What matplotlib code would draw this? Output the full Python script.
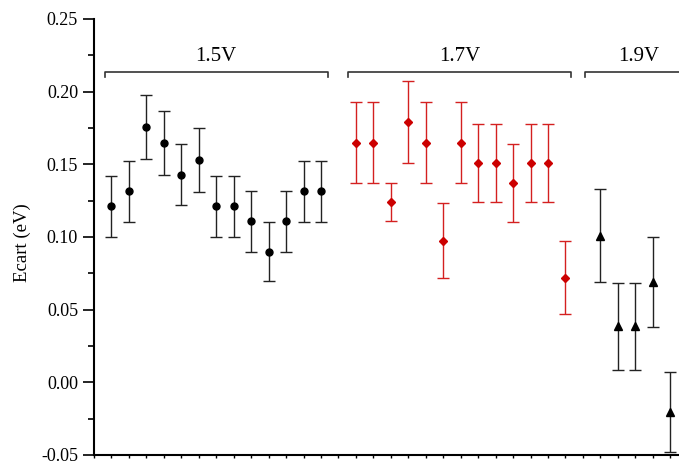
import matplotlib
matplotlib.use('Agg')
import matplotlib.pyplot as plt
import numpy as np

plt.rcParams['font.family'] = ['Liberation Serif', 'DejaVu Serif']

# 1.5V series (black circles)
x15 = np.arange(1, 14)
y15 = [0.121, 0.1315, 0.1756, 0.1646, 0.1427, 0.1532, 0.121, 0.121, 0.1107, 0.090, 0.1107, 0.1315, 0.1315]
e15 = [0.021, 0.021, 0.022, 0.022, 0.021, 0.022, 0.021, 0.021, 0.021, 0.020, 0.021, 0.021, 0.021]

# 1.7V series (red diamonds)
x17 = np.arange(15, 28)
y17 = [0.165, 0.165, 0.124, 0.179, 0.165, 0.0975, 0.165, 0.151, 0.151, 0.1372, 0.151, 0.151, 0.0719]
e17 = [0.028, 0.028, 0.013, 0.028, 0.028, 0.026, 0.028, 0.027, 0.027, 0.027, 0.027, 0.027, 0.025]

# 1.9V series (black triangles)
x19 = np.arange(29, 34)
y19 = [0.1007, 0.0385, 0.0385, 0.069, -0.0201]
e19 = [0.032, 0.030, 0.030, 0.031, 0.0275]

groups = ['1.5V', '1.7V', '1.9V']
group_span = [(0.63, 13.4), (14.56, 27.32), (28.1, 34.4)]
group_text_x = [7.0, 20.94, 31.2]

fig = plt.figure(figsize=[6.79, 4.63], dpi=100)
ax = fig.add_axes([0.1384, 0.0173, 0.8616, 0.9417])

ax.errorbar(x15, y15, yerr=e15, fmt='o', color='black', ecolor='#222222',
            markersize=5, capsize=4, elinewidth=1, capthick=1)
ax.errorbar(x17, y17, yerr=e17, fmt='D', color='#cc0000', ecolor='#d42020',
            markersize=4.5, capsize=4, elinewidth=1, capthick=1)
ax.errorbar(x19, y19, yerr=e19, fmt='^', color='black', ecolor='#222222',
            markersize=6, capsize=4, elinewidth=1, capthick=1)

# group brackets
for name, (a, b), tx in zip(groups, group_span, group_text_x):
    ax.plot([a, a, b, b], [0.2098, 0.2132, 0.2132, 0.2098], color='#333333',
            lw=1.2, clip_on=False)
    ax.text(tx, 0.2175, name, ha='center', va='bottom', fontsize=15)

ax.set_xlim(0, 33.5)
ax.set_ylim(-0.05, 0.25)
ax.set_yticks(np.arange(-0.05, 0.2501, 0.05))
ax.set_yticklabels(['-0.05', '0.00', '0.05', '0.10', '0.15', '0.20', '0.25'])
ax.set_yticks(np.arange(-0.025, 0.25, 0.05), minor=True)
ax.set_xticks(np.arange(0, 34))
ax.set_xticklabels([])
ax.tick_params(axis='y', which='major', length=8, width=1.2, labelsize=13)
ax.tick_params(axis='y', which='minor', length=4, width=1.2)
ax.tick_params(axis='x', which='major', length=2, width=1)
ax.spines['top'].set_visible(False)
ax.spines['right'].set_visible(False)
ax.spines['left'].set_linewidth(1.5)
ax.spines['bottom'].set_linewidth(1.5)
fig.text(22 / 679, 1 - 243 / 463, 'Ecart (eV)', rotation=90, ha='center',
         va='center', fontsize=13.5)

fig.savefig('out.png', dpi=100)
